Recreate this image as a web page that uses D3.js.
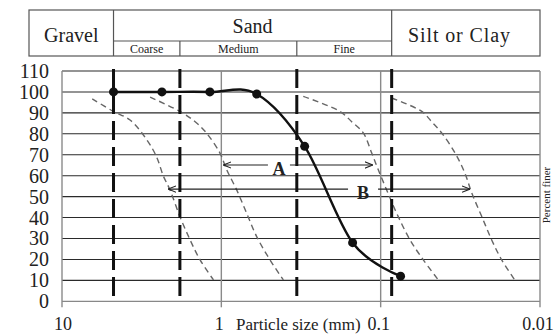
<!DOCTYPE html>
<html lang="en">

<head>
    <meta charset="UTF-8">
    <title>Particle size distribution</title>
    <script src="https://cdn.jsdelivr.net/npm/d3@7"></script>
    <style>
        body {
            margin: 0;
            background: #fff;
        }

        svg {
            display: block;
            font-family: "Liberation Serif", "Times New Roman", serif;
        }
    </style>
</head>

<body>
    <div id="chart"></div>

    <script>
        // Tested soil: sieve sizes (mm) and percent finer (solid line)
        var sieveSizes = [4.75, 2.36, 1.18, 0.6, 0.3, 0.15, 0.075];
        var percentFiner = [100, 100, 100, 99, 74, 28, 12];

        // Reference curves (thin dashed)
        var curve1Sizes = [6.46, 4.76, 3.74, 2.94, 2.55, 2.31, 2.10, 1.82, 1.57, 1.36, 1.12];
        var curve1Values = [96.7, 90.7, 86.6, 77.2, 69, 59.8, 53.2, 40.5, 29.3, 19.8, 10.2];
        var curve2Sizes = [2.80, 1.82, 1.46, 1.24, 1.02, 0.925, 0.801, 0.693, 0.600, 0.495, 0.408];
        var curve2Values = [97.5, 90.7, 85.8, 80.4, 70.8, 62.8, 53.2, 42, 30.9, 19.8, 10.2];
        var curve3Sizes = [0.306, 0.180, 0.152, 0.1285, 0.1138, 0.1035, 0.0917, 0.0793, 0.0654, 0.0540, 0.0435];
        var curve3Values = [97.9, 90.7, 85.8, 80.4, 70.8, 62.8, 53.2, 42, 29.3, 19.8, 10.2];
        var curve4Sizes = [0.0853, 0.0552, 0.0479, 0.0414, 0.0341, 0.0296, 0.0268, 0.0232, 0.0201, 0.0174, 0.0144];
        var curve4Values = [97.1, 90.7, 85.8, 80.4, 70.8, 61.2, 51.7, 40.5, 29.3, 19.8, 10.2];

        // Soil class boundaries (mm) and header names
        var boundarySizes = [4.75, 1.82, 0.336, 0.0853];
        var mainClasses = ["Gravel", "Sand", "Silt or Clay"];
        var sandClasses = ["Coarse", "Medium", "Fine"];

        // Range arrows A and B: start size, end size, level, label position
        var arrowLabels = ["A", "B"];
        var arrowStart = [0.97, 2.16];
        var arrowEnd = [0.112, 0.0275];
        var arrowLevel = [65.1, 53.6];
        var arrowLabelSize = [0.435, 0.129];

        // Axis ticks
        var xTicks = [10, 1, 0.1, 0.01];
        var xTickLabels = ["10", "1", "0.1", "0.01"];
        var yTicks = d3.range(0, 111, 10);

        var width = 554, height = 334;

        var x = d3.scaleLog().domain([10, 0.01]).range([62, 540]);
        var y = d3.scaleLinear().domain([0, 110]).range([301.3, 71]);

        var svg = d3.select("#chart").append("svg")
            .attr("width", width)
            .attr("height", height);

        // arrow heads (open V)
        var defs = svg.append("defs");
        defs.append("marker")
            .attr("id", "arrow")
            .attr("viewBox", "0 0 10 10")
            .attr("refX", 10)
            .attr("refY", 5)
            .attr("markerUnits", "userSpaceOnUse")
            .attr("markerWidth", 8)
            .attr("markerHeight", 8)
            .attr("orient", "auto-start-reverse")
            .append("path")
            .attr("d", "M0,1 L10,5 L0,9")
            .attr("fill", "none")
            .attr("stroke", "#222")
            .attr("stroke-width", 1.3);

        // ---- header table ----
        var hLeft = 29, hRight = x(0.01), hTop = 10, hMid = 41, hBottom = 56;
        var bx = boundarySizes.map(d => x(d));
        var header = svg.append("g")
            .attr("stroke", "#555")
            .attr("stroke-width", 1.2)
            .attr("fill", "none");

        header.append("rect")
            .attr("x", hLeft).attr("y", hTop)
            .attr("width", hRight - hLeft).attr("height", hBottom - hTop);
        [bx[0], bx[3]].forEach(v => header.append("line")
            .attr("x1", v).attr("x2", v).attr("y1", hTop).attr("y2", hBottom));
        [bx[1], bx[2]].forEach(v => header.append("line")
            .attr("x1", v).attr("x2", v).attr("y1", hMid).attr("y2", hBottom));
        header.append("line")
            .attr("x1", bx[0]).attr("x2", bx[3]).attr("y1", hMid).attr("y2", hMid);

        var mainX = [(hLeft + bx[0]) / 2, (bx[0] + bx[3]) / 2, 459];
        var mainY = [41.5, 33, 41.5];
        svg.selectAll(".main-class")
            .data(mainClasses)
            .enter().append("text")
            .attr("class", "main-class")
            .attr("x", (d, i) => mainX[i])
            .attr("y", (d, i) => mainY[i])
            .attr("text-anchor", "middle")
            .attr("font-size", 20)
            .attr("fill", "#222")
            .each(function (d) {
                if (d === "Silt or Clay") {
                    d3.select(this).attr("textLength", 102).attr("lengthAdjust", "spacing");
                }
            })
            .text(d => d);

        svg.selectAll(".sand-class")
            .data(sandClasses)
            .enter().append("text")
            .attr("class", "sand-class")
            .attr("x", (d, i) => (bx[i] + bx[i + 1]) / 2)
            .attr("y", 52.5)
            .attr("text-anchor", "middle")
            .attr("font-size", 12)
            .attr("fill", "#222")
            .text(d => d);

        // ---- grid ----
        svg.append("g")
            .selectAll("line")
            .data(yTicks)
            .enter().append("line")
            .attr("x1", x(10)).attr("x2", x(0.01))
            .attr("y1", d => y(d)).attr("y2", d => y(d))
            .attr("stroke", d => d === 0 ? "#888" : "#2a2a2a")
            .attr("stroke-width", d => d === 0 ? 1.2 : 1.1);

        // vertical lines at each decade, with short ticks under the axis
        svg.append("g")
            .selectAll("line")
            .data(xTicks)
            .enter().append("line")
            .attr("x1", d => x(d)).attr("x2", d => x(d))
            .attr("y1", y(110)).attr("y2", y(0) + 6)
            .attr("stroke", "#8a8a8a")
            .attr("stroke-width", 1.4);

        // y tick labels
        svg.append("g")
            .selectAll("text")
            .data(yTicks)
            .enter().append("text")
            .attr("x", 49)
            .attr("y", d => y(d))
            .attr("dy", "0.35em")
            .attr("text-anchor", "end")
            .attr("font-size", 20)
            .attr("fill", "#222")
            .text(d => d);

        // x tick labels
        svg.append("g")
            .selectAll("text")
            .data(xTicks)
            .enter().append("text")
            .attr("x", (d, i) => x(d) + (i === 0 ? 1 : -2))
            .attr("y", 330)
            .attr("text-anchor", "middle")
            .attr("font-size", 18)
            .attr("fill", "#222")
            .text((d, i) => xTickLabels[i]);

        svg.append("text")
            .attr("x", 236)
            .attr("y", 330)
            .attr("font-size", 17)
            .attr("fill", "#222")
            .text("Particle size (mm)");

        // y axis title on the right edge
        svg.append("text")
            .attr("transform", "translate(550,195) rotate(-90)")
            .attr("text-anchor", "middle")
            .attr("font-size", 11)
            .attr("fill", "#222")
            .text("Percent finer");

        // ---- reference curves ----
        var line = d3.line()
            .x(d => x(d[0]))
            .y(d => y(d[1]))
            .curve(d3.curveCatmullRom.alpha(0.5));

        var refCurves = [
            d3.zip(curve1Sizes, curve1Values),
            d3.zip(curve2Sizes, curve2Values),
            d3.zip(curve3Sizes, curve3Values),
            d3.zip(curve4Sizes, curve4Values)
        ];
        svg.append("g")
            .selectAll("path")
            .data(refCurves)
            .enter().append("path")
            .attr("d", line)
            .attr("fill", "none")
            .attr("stroke", "#666")
            .attr("stroke-width", 1.4)
            .attr("stroke-dasharray", "6,4");

        // ---- arrows A and B ----
        var arrows = svg.append("g");
        arrowLabels.forEach((lab, i) => {
            var ay = y(arrowLevel[i]);
            arrows.append("line")
                .attr("x1", x(arrowStart[i])).attr("x2", x(arrowEnd[i]))
                .attr("y1", ay).attr("y2", ay)
                .attr("stroke", "#222")
                .attr("stroke-width", 1.2)
                .attr("marker-start", "url(#arrow)")
                .attr("marker-end", "url(#arrow)");
            var lx = x(arrowLabelSize[i]);
            var gap = i === 0 ? 11 : 15;
            arrows.append("rect")
                .attr("x", lx - gap).attr("y", ay - 3)
                .attr("width", gap * 2).attr("height", 6)
                .attr("fill", "#fff");
            arrows.append("text")
                .attr("x", lx)
                .attr("y", ay + 9.5)
                .attr("text-anchor", "middle")
                .attr("font-size", 18)
                .attr("font-weight", "bold")
                .attr("fill", "#222")
                .text(lab);
        });

        // ---- class boundaries (thick dashed) ----
        svg.append("g")
            .selectAll("line")
            .data(boundarySizes)
            .enter().append("line")
            .attr("x1", d => x(d)).attr("x2", d => x(d))
            .attr("y1", y(111)).attr("y2", y(1.5))
            .attr("stroke", "#111")
            .attr("stroke-width", 3)
            .attr("stroke-dasharray", "19,7");

        // ---- tested soil ----
        var soil = d3.zip(sieveSizes, percentFiner);
        svg.append("path")
            .datum(soil)
            .attr("d", d3.line()
                .x(d => x(d[0]))
                .y(d => y(d[1]))
                .curve(d3.curveCardinal.tension(0)))
            .attr("fill", "none")
            .attr("stroke", "#111")
            .attr("stroke-width", 2.4);

        svg.append("g")
            .selectAll("circle")
            .data(soil)
            .enter().append("circle")
            .attr("cx", d => x(d[0]))
            .attr("cy", d => y(d[1]))
            .attr("r", 4.5)
            .attr("fill", "#111");
    </script>
</body>

</html>
